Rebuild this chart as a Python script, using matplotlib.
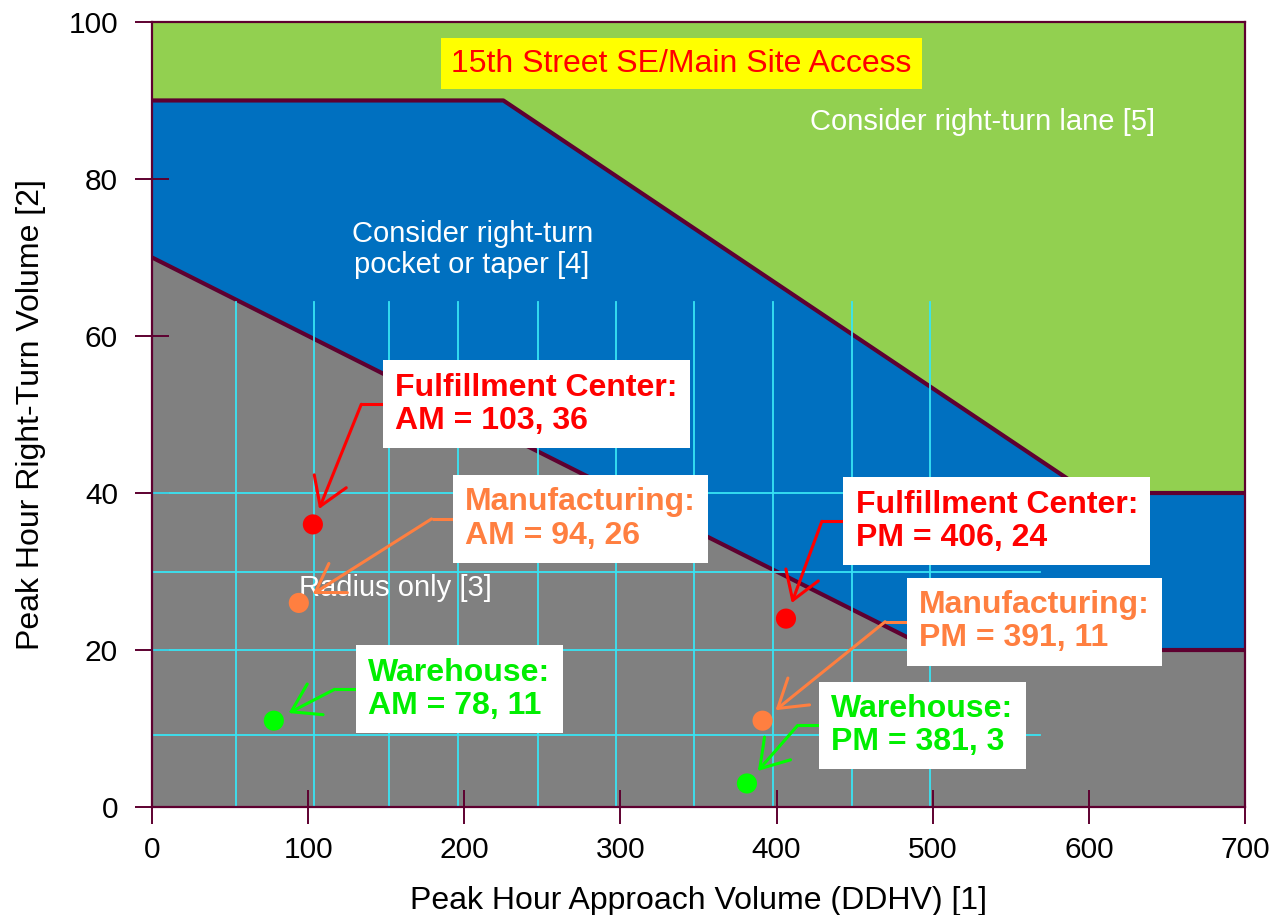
import matplotlib.pyplot as plt

plt.rcParams['font.family'] = ['Liberation Sans', 'DejaVu Sans']

# zone boundaries: approach volume (DDHV) vs right-turn volume
pocket_x = [0, 225, 600, 700]
pocket_y = [90, 90, 40, 40]
radius_x = [0, 500, 700]
radius_y = [70, 20, 20]

# site driveway volumes
sites = ['Fulfillment Center', 'Manufacturing', 'Warehouse',
         'Fulfillment Center', 'Manufacturing', 'Warehouse']
periods = ['AM', 'AM', 'AM', 'PM', 'PM', 'PM']
approach = [103, 94, 78, 406, 391, 381]
right_turn = [36, 26, 11, 24, 11, 3]
site_colors = ['#FF0000', '#FF7F40', '#00FF00', '#FF0000', '#FF7F40', '#00FF00']
text_colors = ['#FF0000', '#FF7F40', '#00EE00', '#FF0000', '#FF7F40', '#00EE00']

# where the callout boxes sit (left edge, vertical middle)
box_left = [148, 193, 131, 443, 483.5, 427.5]
box_mid = [51.3, 36.7, 15.0, 36.4, 23.6, 10.4]

# background grid of the worksheet
grid_x = [54, 104, 152, 196, 247, 297, 347, 398, 448, 498]
grid_y = [9.2, 20, 30, 40]

maroon = '#5E0030'
cyan = '#38E4F4'

fig = plt.figure(figsize=(12.81, 9.15), dpi=100)
ax = fig.add_axes([0.1187, 0.118, 0.8532, 0.858])

ax.set_facecolor('#92D050')
ax.fill_between(pocket_x, 0, pocket_y, color='#0070C0', lw=0, zorder=1)
ax.fill_between(radius_x, 0, radius_y, color='#808080', lw=0, zorder=1.5)
ax.plot(pocket_x, pocket_y, color=maroon, lw=3, zorder=2, solid_capstyle='butt')
ax.plot(radius_x, radius_y, color=maroon, lw=3, zorder=2, solid_capstyle='butt')

for gx in grid_x:
    ax.plot([gx, gx], [0, 64.3], color=cyan, lw=1.3, zorder=2.5)
for gy in grid_y:
    ax.plot([0, 569], [gy, gy], color=cyan, lw=1.3, zorder=2.5)

# zone names
ax.text(532, 87.3, 'Consider right-turn lane [5]', color='white', fontsize=21,
        ha='center', va='center', zorder=3)
ax.text(205, 71.0, 'Consider right-turn\npocket or taper [4]', color='white',
        fontsize=21, ha='center', va='center', linespacing=1.15, zorder=3)
ax.text(156, 27.9, 'Radius only [3]', color='white', fontsize=21,
        ha='center', va='center', zorder=3)

ax.text(339, 94.7, '15th Street SE/Main Site Access', color='#FF0000', fontsize=23,
        ha='center', va='center', zorder=5,
        bbox=dict(boxstyle='square,pad=0.33', fc='#FFFF00', ec='none'))

ax.scatter(approach, right_turn, s=210, c=site_colors, zorder=6, linewidths=0)

stub = 14
for i in range(len(sites)):
    label = sites[i] + ':\n' + periods[i] + ' = ' + str(approach[i]) + ', ' + str(right_turn[i])
    ax.text(box_left[i] + 7.6, box_mid[i], label, color=text_colors[i], fontsize=23,
            fontweight='bold', ha='left', va='center', linespacing=1.15, zorder=7,
            bbox=dict(boxstyle='square,pad=0.38', fc='white', ec='none'))
    elbow = box_left[i] - stub
    ax.plot([box_left[i], elbow], [box_mid[i], box_mid[i]], color=site_colors[i],
            lw=2.2, zorder=6, solid_capstyle='butt')
    ax.annotate('', xy=(approach[i], right_turn[i]), xytext=(elbow, box_mid[i]),
                arrowprops=dict(arrowstyle='->,head_length=0.72,head_width=0.46',
                                color=site_colors[i], lw=2.2, shrinkA=0, shrinkB=12,
                                mutation_scale=27),
                zorder=6)

ax.set_xlim(0, 700)
ax.set_ylim(0, 100)
ax.set_xticks(range(0, 701, 100))
ax.set_yticks(range(0, 101, 20))
ax.tick_params(direction='inout', length=25, width=1.4, color=maroon,
               labelsize=21.5)
ax.tick_params(axis='y', pad=12)
ax.tick_params(axis='x', pad=8)
for s in ax.spines.values():
    s.set_color(maroon)
    s.set_linewidth(1.6)
    s.set_zorder(8)

ax.set_xlabel('Peak Hour Approach Volume (DDHV) [1]', fontsize=23, labelpad=16)
ax.set_ylabel('Peak Hour Right-Turn Volume [2]', fontsize=23, labelpad=16)

fig.savefig('out.png', dpi=100)
